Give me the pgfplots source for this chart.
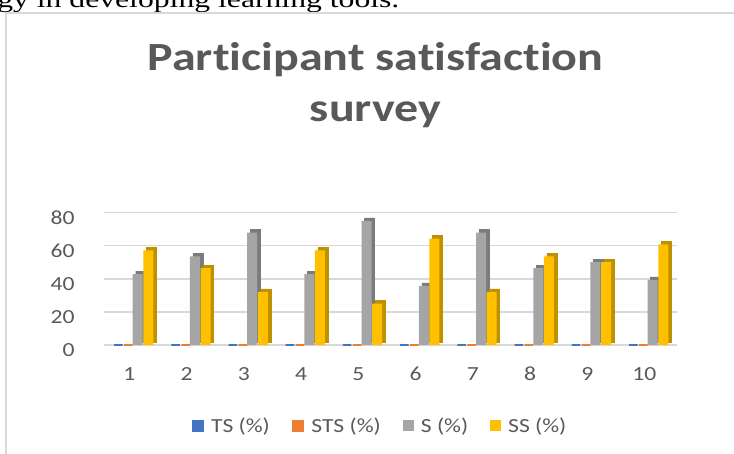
\documentclass[border=0pt]{standalone}
\usepackage{pgfplots}
\usepackage{pgfplotstable}
\usepackage{graphicx}
\pgfplotsset{compat=1.18}
\usepackage{fontspec}
\setmainfont{Carlito}[Ligatures=NoCommon]
\newfontfamily\timesfont{Liberation Serif}
\definecolor{tsblue}{HTML}{4472C4}
\definecolor{stsorange}{HTML}{ED7D31}
\definecolor{sgray}{HTML}{A5A5A5}
\definecolor{ssyellow}{HTML}{FFC000}
\definecolor{sgrayd}{HTML}{7B7B7B}
\definecolor{ssyellowd}{HTML}{BF9000}
\definecolor{labc}{HTML}{595959}
\definecolor{gridc}{HTML}{D9D9D9}
\definecolor{framec}{HTML}{D9D9D9}

\pgfplotstableread{
q TS STS S SS
1 0 0 42.86 57.14
2 0 0 53.57 46.43
3 0 0 67.86 32.14
4 0 0 42.86 57.14
5 0 0 75.00 25.00
6 0 0 35.71 64.29
7 0 0 67.86 32.14
8 0 0 46.43 53.57
9 0 0 50.00 50.00
10 0 0 39.29 60.71
}\datatable

\begin{document}
\begin{tikzpicture}[x=1pt,y=1pt]
\useasboundingbox (0,0) rectangle (734,453);
\clip (0,0) rectangle (734,453);
% cropped document text above the chart
\node[anchor=base west, inner sep=0pt, xscale=1.32, font=\timesfont\fontsize{24}{28}\selectfont] at (-3,445) {gy in developing learning tools.};
% chart frame
\draw[color=framec, line width=2pt] (6,-5) -- (6,440) -- (740,440);
% title
\node[anchor=base, inner sep=0pt, xscale=1.2, text=labc, font=\fontsize{40}{48}\selectfont\bfseries] at (375.5,382.3) {Participant satisfaction};
\node[anchor=base, inner sep=0pt, xscale=1.2, text=labc, font=\fontsize{40}{48}\selectfont\bfseries] at (375.5,331.3) {survey};
\begin{axis}[
  at={(104.4pt,108pt)}, anchor=south west,
  scale only axis, width=572.2pt, height=132.5pt,
  xmin=0.5, xmax=10.5, ymin=0, ymax=80,
  ytick={0,20,40,60,80}, xtick={1,...,10},
  /pgf/number format/assume math mode=true,
  ymajorgrids, grid style={color=gridc, line width=1.5pt},
  axis line style={draw=none},
  major tick length=0pt,
  ybar, bar width=10pt,
  clip=false,
  ticklabel style={font=\fontsize{20}{24}\selectfont, text=labc, xscale=1.18},
  yticklabel style={anchor=east, inner sep=0pt, xshift=-25pt, yshift=-5.5pt},
  xticklabel style={anchor=base, inner sep=0pt, yshift=-35pt, xshift=-3pt},
  legend style={draw=none, fill=none, at={(axis description cs:0.4817,-0.611)}, anchor=center,
    legend columns=4, font=\fontsize{20}{24}\selectfont, text=labc,
    /tikz/every even column/.append style={column sep=20pt}},
  legend cell align=left,
]
% 3D side/top faces
\addplot[fill=sgrayd, draw=sgrayd, bar shift=7.7pt, yshift=3pt, forget plot] table[x=q,y=S] {\datatable};
\addplot[fill=ssyellowd, draw=ssyellowd, bar shift=18.3pt, yshift=3pt, forget plot] table[x=q,y=SS] {\datatable};
% main bars
\addplot[fill=tsblue, draw=tsblue, line width=1.5pt, bar shift=-14.7pt, bar width=8.5pt,
  legend image code/.code={\fill[tsblue] (0pt,-5.5pt) rectangle (11pt,5.5pt); \path (16pt,0pt);}] table[x=q,y=TS] {\datatable};
\addplot[fill=stsorange, draw=stsorange, line width=1.5pt, bar shift=-4.7pt, bar width=8.5pt,
  legend image code/.code={\fill[stsorange] (0pt,-5.5pt) rectangle (11pt,5.5pt); \path (16pt,0pt);}] table[x=q,y=STS] {\datatable};
\addplot[fill=sgray, draw=none, bar shift=4.7pt,
  legend image code/.code={\fill[sgray] (0pt,-5.5pt) rectangle (11pt,5.5pt); \path (16pt,0pt);}] table[x=q,y=S] {\datatable};
\addplot[fill=ssyellow, draw=none, bar shift=15.3pt,
  legend image code/.code={\fill[ssyellow] (0pt,-5.5pt) rectangle (11pt,5.5pt); \path (16pt,0pt);}] table[x=q,y=SS] {\datatable};
\legend{\scalebox{1.18}[1]{TS (\%)}, \scalebox{1.18}[1]{STS (\%)}, \scalebox{1.18}[1]{S (\%)}, \scalebox{1.18}[1]{SS (\%)}}
\end{axis}
\end{tikzpicture}
\end{document}
